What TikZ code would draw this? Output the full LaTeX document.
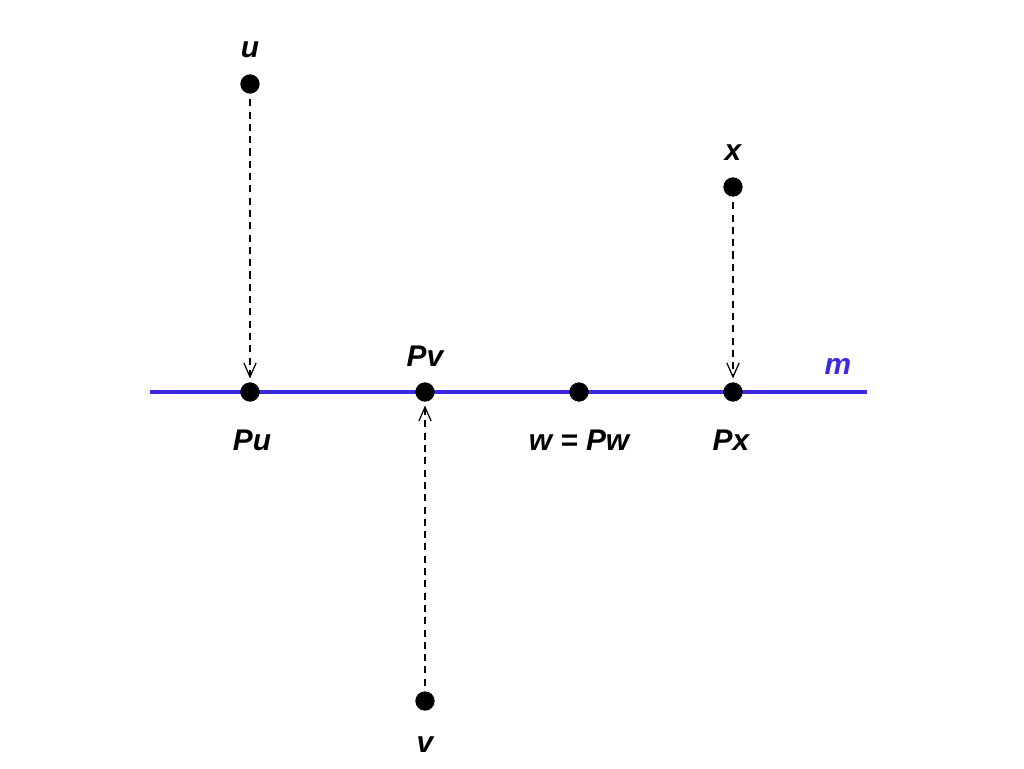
\documentclass[tikz,border=0pt]{standalone}
\usepackage{fontspec}
\setmainfont{Liberation Sans}
\usetikzlibrary{arrows.meta}
\definecolor{lineblue}{RGB}{60,40,225}
\tikzset{
  pt/.style={circle,fill=black,inner sep=0pt,minimum size=11pt},
  lbl/.style={font=\fontsize{17}{20}\selectfont\bfseries\itshape},
  proj/.style={line width=0.7pt,dash pattern=on 4pt off 3pt,
    -{Straight Barb[length=8pt,width=7pt]},shorten >=2pt,shorten <=3pt}
}
\begin{document}
\begin{tikzpicture}[x=0.02cm,y=-0.02cm]
  \useasboundingbox (0,0) rectangle (1024,768);

  % line m
  \draw[lineblue,line width=1.8pt] (150,392) -- (867,392);
  \node[lbl,text=lineblue] (m) at (838,366) {m};

  % points
  \node[pt] (u) at (250,84) {};
  \node[pt] (x) at (733,187) {};
  \node[pt] (v) at (425,701) {};
  \node[pt] (Pu) at (250,392) {};
  \node[pt] (Pv) at (425,392) {};
  \node[pt] (Pw) at (579,392) {};
  \node[pt] (Px) at (733,392) {};

  % labels
  \node[lbl] at (250,50) {u};
  \node[lbl] at (733,153) {x};
  \node[lbl] at (425,745) {v};
  \node[lbl] at (425,356) {Pv};
  \node[lbl] at (252,440) {Pu};
  \node[lbl] at (579,440) {w = Pw};
  \node[lbl] at (731,440) {Px};

  % projections
  \draw[proj] (u) -- (Pu);
  \draw[proj] (x) -- (Px);
  \draw[proj] (v) -- (Pv);
\end{tikzpicture}
\end{document}
